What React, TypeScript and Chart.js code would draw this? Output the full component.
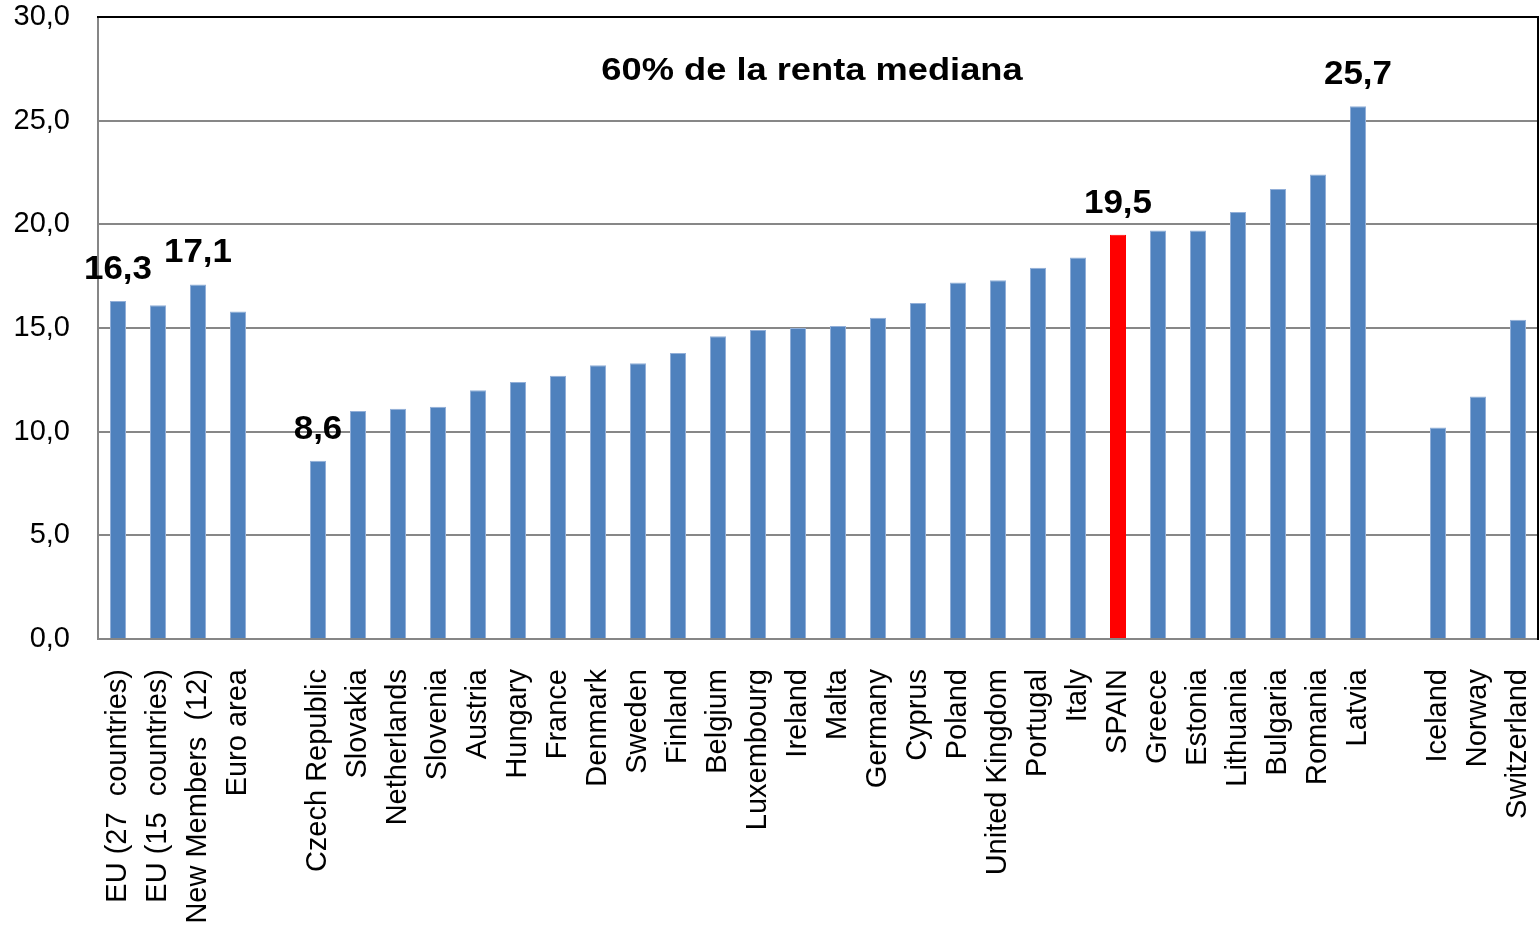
import React, { useEffect, useRef } from "react";
import { Chart, registerables } from "chart.js";

Chart.register(...registerables);

const categories: string[] = [
  "EU (27  countries)",
  "EU (15  countries)",
  "New Members  (12)",
  "Euro area",
  "",
  "Czech Republic",
  "Slovakia",
  "Netherlands",
  "Slovenia",
  "Austria",
  "Hungary",
  "France",
  "Denmark",
  "Sweden",
  "Finland",
  "Belgium",
  "Luxembourg",
  "Ireland",
  "Malta",
  "Germany",
  "Cyprus",
  "Poland",
  "United Kingdom",
  "Portugal",
  "Italy",
  "SPAIN",
  "Greece",
  "Estonia",
  "Lithuania",
  "Bulgaria",
  "Romania",
  "Latvia",
  "",
  "Iceland",
  "Norway",
  "Switzerland",
];

const values: (number | null)[] = [
  16.3, 16.1, 17.1, 15.8,
  null,
  8.6, 11.0, 11.1, 11.2, 12.0, 12.4, 12.7, 13.2, 13.3, 13.8, 14.6, 14.9,
  15.0, 15.1, 15.5, 16.2, 17.2, 17.3, 17.9, 18.4, 19.5, 19.7, 19.7, 20.6,
  21.7, 22.4, 25.7,
  null,
  10.2, 11.7, 15.4,
];

const highlightedCategory = "SPAIN";
const labeledCategories: string[] = [
  "EU (27  countries)",
  "New Members  (12)",
  "Czech Republic",
  "SPAIN",
  "Latvia",
];
const yTicks: number[] = [0, 5, 10, 15, 20, 25, 30];
const chartTitle = "60% de la renta mediana";

const BLUE = "#4F81BD";
const RED = "#FF0000";
const FONT = "'Liberation Sans', Arial, sans-serif";

const fmt = (v: number) => v.toFixed(1).replace(".", ",");

const overlayPlugin = {
  id: "overlay",
  afterDraw(chart: any) {
    const { ctx, chartArea, scales } = chart;
    const { left, right, top, bottom } = chartArea;
    ctx.save();
    // top and right frame
    ctx.strokeStyle = "#000";
    ctx.lineWidth = 2;
    ctx.beginPath();
    ctx.moveTo(left - 1, top);
    ctx.lineTo(right, top);
    ctx.lineTo(right, bottom + 1);
    ctx.stroke();

    // title
    ctx.fillStyle = "#000";
    ctx.font = `bold 31px ${FONT}`;
    ctx.textAlign = "center";
    ctx.textBaseline = "alphabetic";
    ctx.save();
    ctx.translate((left + right) / 2 - 6, top + 63);
    ctx.scale(1.17, 1);
    ctx.fillText(chartTitle, 0, 0);
    ctx.restore();

    // value labels
    ctx.font = `bold 33px ${FONT}`;
    labeledCategories.forEach((cat) => {
      const i = categories.indexOf(cat);
      const v = values[i];
      if (i < 0 || v == null) return;
      const x = scales.x.getPixelForValue(i);
      const y = scales.y.getPixelForValue(v) - 22;
      ctx.save();
      ctx.translate(x, y);
      ctx.scale(1.06, 1);
      ctx.fillText(fmt(v), 0, 0);
      ctx.restore();
    });
    ctx.restore();
  },
};

export default function App() {
  const ref = useRef<HTMLCanvasElement>(null);

  useEffect(() => {
    if (!ref.current) return;
    const chart = new Chart(ref.current, {
      type: "bar",
      data: {
        labels: categories,
        datasets: [
          {
            data: values,
            backgroundColor: categories.map((c) => (c === highlightedCategory ? RED : BLUE)),
            borderColor: categories.map((c) => (c === highlightedCategory ? RED : "#92AFD8")),
            borderWidth: 1,
            categoryPercentage: 1,
            barPercentage: 0.4,
          },
        ],
      },
      options: {
        responsive: false,
        animation: false,
        devicePixelRatio: 1,
        layout: { padding: { top: 17, right: 2, left: 0, bottom: 0 } },
        plugins: {
          legend: { display: false },
          tooltip: { enabled: false },
          title: { display: false },
        },
        scales: {
          x: {
            grid: { display: false, drawTicks: false },
            border: { display: true, color: "#868686", width: 2 },
            ticks: {
              autoSkip: false,
              minRotation: 90,
              maxRotation: 90,
              padding: 30,
              color: "#000",
              font: { family: FONT, size: 29 },
            },
            afterFit(scale: any) {
              scale.height = 289;
              scale.paddingLeft = 0;
              scale.paddingRight = 0;
            },
          },
          y: {
            min: 0,
            max: 30,
            afterBuildTicks(scale: any) {
              scale.ticks = yTicks.map((v) => ({ value: v }));
            },
            grid: { color: "#878787", lineWidth: 2, drawTicks: false },
            border: { display: true, color: "#868686", width: 2 },
            ticks: {
              padding: 28,
              color: "#000",
              font: { family: FONT, size: 29 },
              callback: (v: any) => fmt(Number(v)),
            },
            afterFit(scale: any) {
              scale.width = 98;
              scale.paddingTop = 0;
              scale.paddingBottom = 0;
            },
          },
        },
      },
      plugins: [overlayPlugin],
    } as any);
    return () => chart.destroy();
  }, []);

  return (
    <div style={{ position: "fixed", left: 0, top: 0, width: 1540, height: 928, background: "#fff" }}>
      <canvas ref={ref} width={1540} height={928} style={{ display: "block", width: 1540, height: 928 }} />
    </div>
  );
}
